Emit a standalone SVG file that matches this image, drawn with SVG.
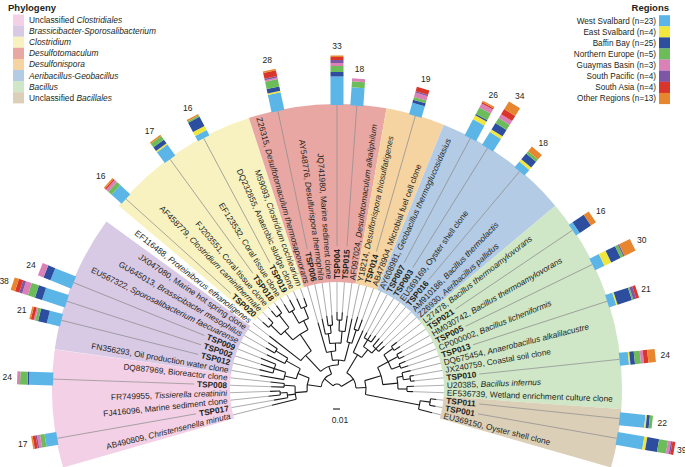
<svg xmlns="http://www.w3.org/2000/svg" width="685" height="467" viewBox="0 0 685 467">
<style>
text{font-family:"Liberation Sans",Arial,Helvetica,sans-serif;fill:#231f20}
.lf{font-size:8.3px}
.b{font-weight:bold}
.i{font-style:italic}
.n{font-size:8.5px;text-anchor:middle}
.lg{font-size:8.4px}
.rg{font-size:8.2px;text-anchor:end}
.ttl{font-size:9.5px;font-weight:bold}
.gl{stroke:#8e8e8e;stroke-width:.7;fill:none}
.br{stroke:#1a1a1a;stroke-width:1.1;fill:none}
.arc{fill:none;stroke:#1a1a1a;stroke-width:1.1}
.wd{fill:none;stroke-width:178}
.c1{fill:#5bb5e6}.c2{fill:#f0e63c}.c3{fill:#2d4d9e}.c4{fill:#6cbd5a}
.c5{fill:#dc80b8}.c6{fill:#7d56a6}.c7{fill:#d9352b}.c8{fill:#e8862f}
.w1{fill:#f3d0e5}.w2{fill:#d8c9e5}.w3{fill:#f8f2c0}.w4{fill:#e8a7a3}
.w5{fill:#f6d4a2}.w6{fill:#b3cbe4}.w7{fill:#cfe6c7}.w8{fill:#dccfb8}
</style>

<g id="legend-phylogeny">
<text class="ttl" x="8" y="11">Phylogeny</text>
<rect class="w1" x="13" y="14.5" width="11" height="11.2"/>
<rect class="w2" x="13" y="25.6" width="11" height="11.2"/>
<rect class="w3" x="13" y="36.7" width="11" height="11.2"/>
<rect class="w4" x="13" y="47.8" width="11" height="11.2"/>
<rect class="w5" x="13" y="58.9" width="11" height="11.2"/>
<rect class="w6" x="13" y="70" width="11" height="11.2"/>
<rect class="w7" x="13" y="81.1" width="11" height="11.2"/>
<rect class="w8" x="13" y="92.2" width="11" height="11.2"/>
<text class="lg" x="29" y="23">Unclassified <tspan class="i">Clostridiales</tspan></text>
<text class="lg i" x="29" y="34.1">Brassicibacter-Sporosalibacterium</text>
<text class="lg i" x="29" y="45.2">Clostridium</text>
<text class="lg i" x="29" y="56.3">Desulfotomaculum</text>
<text class="lg i" x="29" y="67.4">Desulfonispora</text>
<text class="lg i" x="29" y="78.5">Aeribacillus-Geobacillus</text>
<text class="lg i" x="29" y="89.6">Bacillus</text>
<text class="lg" x="29" y="100.7">Unclassified <tspan class="i">Bacillales</tspan></text>
</g>

<g id="legend-regions">
<text class="ttl" x="669" y="11" text-anchor="end">Regions</text>
<rect class="c1" x="659" y="15.2" width="11" height="11.2"/>
<rect class="c2" x="659" y="26.3" width="11" height="11.2"/>
<rect class="c3" x="659" y="37.4" width="11" height="11.2"/>
<rect class="c4" x="659" y="48.5" width="11" height="11.2"/>
<rect class="c5" x="659" y="59.6" width="11" height="11.2"/>
<rect class="c6" x="659" y="70.7" width="11" height="11.2"/>
<rect class="c7" x="659" y="81.8" width="11" height="11.2"/>
<rect class="c8" x="659" y="92.9" width="11" height="11.2"/>
<text class="rg" x="656" y="23.7">West Svalbard (n=23)</text>
<text class="rg" x="656" y="34.8">East Svalbard (n=4)</text>
<text class="rg" x="656" y="45.9">Baffin Bay (n=25)</text>
<text class="rg" x="656" y="57">Northern Europe (n=5)</text>
<text class="rg" x="656" y="68.1">Guaymas Basin (n=3)</text>
<text class="rg" x="656" y="79.2">South Pacific (n=4)</text>
<text class="rg" x="656" y="90.3">South Asia (n=4)</text>
<text class="rg" x="656" y="101.4">Other Regions (n=13)</text>
</g>

<g id="scale-bar">
<path d="M333 409H340" stroke="#1a1a1a" stroke-width="1.1"/>
<text x="340" y="423" font-size="8.5" text-anchor="middle">0.01</text>
</g>

<g transform="translate(337 389)">
<g id="clade-wedges">
<circle class="wd" r="196" pathLength="360" stroke="#f3d0e5" stroke-dasharray="24 336" transform="rotate(164)"/>
<circle class="wd" r="196" pathLength="360" stroke="#d8c9e5" stroke-dasharray="28 332" transform="rotate(188)"/>
<circle class="wd" r="196" pathLength="360" stroke="#f8f2c0" stroke-dasharray="32 328" transform="rotate(220)"/>
<circle class="wd" r="196" pathLength="360" stroke="#e8a7a3" stroke-dasharray="28 332" transform="rotate(252)"/>
<circle class="wd" r="196" pathLength="360" stroke="#f6d4a2" stroke-dasharray="12 348" transform="rotate(280)"/>
<circle class="wd" r="196" pathLength="360" stroke="#b3cbe4" stroke-dasharray="28 332" transform="rotate(292)"/>
<circle class="wd" r="196" pathLength="360" stroke="#cfe6c7" stroke-dasharray="44 316" transform="rotate(320)"/>
<circle class="wd" r="196" pathLength="360" stroke="#dccfb8" stroke-dasharray="12 348" transform="rotate(364)"/>
</g>

<g id="connectors">
<circle class="arc" r="5" pathLength="360" stroke-dasharray="109.94 360" transform="rotate(219.125)"/>
<circle class="arc" r="16" pathLength="360" stroke-dasharray="61.75 360" transform="rotate(188.25)"/>
<circle class="arc" r="30" pathLength="360" stroke-dasharray="26.5 360" transform="rotate(175)"/>
<circle class="arc" r="42" pathLength="360" stroke-dasharray="18 360" transform="rotate(166)"/>
<circle class="arc" r="50" pathLength="360" stroke-dasharray="6 360" transform="rotate(170)"/>
<circle class="arc" r="57" pathLength="360" stroke-dasharray="4 360" transform="rotate(174)"/>
<circle class="arc" r="53" pathLength="360" stroke-dasharray="4 360" transform="rotate(182)"/>
<circle class="arc" r="42" pathLength="360" stroke-dasharray="15 360" transform="rotate(194)"/>
<circle class="arc" r="54" pathLength="360" stroke-dasharray="8 360" transform="rotate(190)"/>
<circle class="arc" r="66" pathLength="360" stroke-dasharray="8 360" transform="rotate(194)"/>
<circle class="arc" r="58" pathLength="360" stroke-dasharray="6 360" transform="rotate(206)"/>
<circle class="arc" r="72" pathLength="360" stroke-dasharray="4 360" transform="rotate(210)"/>
<circle class="arc" r="24" pathLength="360" stroke-dasharray="46 360" transform="rotate(227)"/>
<circle class="arc" r="46" pathLength="360" stroke-dasharray="18 360" transform="rotate(218)"/>
<circle class="arc" r="66" pathLength="360" stroke-dasharray="16 360" transform="rotate(228)"/>
<circle class="arc" r="78" pathLength="360" stroke-dasharray="8 360" transform="rotate(224)"/>
<circle class="arc" r="92" pathLength="360" stroke-dasharray="4 360" transform="rotate(222)"/>
<circle class="arc" r="94" pathLength="360" stroke-dasharray="4 360" transform="rotate(230)"/>
<circle class="arc" r="76" pathLength="360" stroke-dasharray="8 360" transform="rotate(240)"/>
<circle class="arc" r="90" pathLength="360" stroke-dasharray="4 360" transform="rotate(238)"/>
<circle class="arc" r="88" pathLength="360" stroke-dasharray="4 360" transform="rotate(246)"/>
<circle class="arc" r="29" pathLength="360" stroke-dasharray="24 360" transform="rotate(261)"/>
<circle class="arc" r="38" pathLength="360" stroke-dasharray="14 360" transform="rotate(254)"/>
<circle class="arc" r="46" pathLength="360" stroke-dasharray="14 360" transform="rotate(261)"/>
<circle class="arc" r="56" pathLength="360" stroke-dasharray="6 360" transform="rotate(258)"/>
<circle class="arc" r="64" pathLength="360" stroke-dasharray="4 360" transform="rotate(262)"/>
<circle class="arc" r="58" pathLength="360" stroke-dasharray="6 360" transform="rotate(272)"/>
<circle class="arc" r="69" pathLength="360" stroke-dasharray="4 360" transform="rotate(270)"/>
<circle class="arc" r="48" pathLength="360" stroke-dasharray="6 360" transform="rotate(282)"/>
<circle class="arc" r="62" pathLength="360" stroke-dasharray="4 360" transform="rotate(286)"/>
<circle class="arc" r="19" pathLength="360" stroke-dasharray="56.125 360" transform="rotate(301)"/>
<circle class="arc" r="40" pathLength="360" stroke-dasharray="14 360" transform="rotate(294)"/>
<circle class="arc" r="50" pathLength="360" stroke-dasharray="12 360" transform="rotate(302)"/>
<circle class="arc" r="58" pathLength="360" stroke-dasharray="8 360" transform="rotate(298)"/>
<circle class="arc" r="56" pathLength="360" stroke-dasharray="8 360" transform="rotate(310)"/>
<circle class="arc" r="29" pathLength="360" stroke-dasharray="27.75 360" transform="rotate(343.25)"/>
<circle class="arc" r="46" pathLength="360" stroke-dasharray="22.5 360" transform="rotate(332)"/>
<circle class="arc" r="58" pathLength="360" stroke-dasharray="16 360" transform="rotate(324)"/>
<circle class="arc" r="69" pathLength="360" stroke-dasharray="4 360" transform="rotate(322)"/>
<circle class="arc" r="69" pathLength="360" stroke-dasharray="4 360" transform="rotate(330)"/>
<circle class="arc" r="67" pathLength="360" stroke-dasharray="4 360" transform="rotate(338)"/>
<circle class="arc" r="61" pathLength="360" stroke-dasharray="11 360" transform="rotate(349)"/>
<circle class="arc" r="67" pathLength="360" stroke-dasharray="6 360" transform="rotate(346)"/>
<circle class="arc" r="74" pathLength="360" stroke-dasharray="4 360" transform="rotate(350)"/>
<circle class="arc" r="70" pathLength="360" stroke-dasharray="4 360" transform="rotate(358)"/>
<circle class="arc" r="84" pathLength="360" stroke-dasharray="6 360" transform="rotate(368)"/>
<circle class="arc" r="94" pathLength="360" stroke-dasharray="4 360" transform="rotate(366)"/>
<path class="br" d="M5 0H16" transform="rotate(219.125)"/>
<path class="br" d="M5 0H19" transform="rotate(329.06)"/>
<path class="br" d="M16 0H30" transform="rotate(188.25)"/>
<path class="br" d="M16 0H24" transform="rotate(250)"/>
<path class="br" d="M30 0H42" transform="rotate(175)"/>
<path class="br" d="M30 0H42" transform="rotate(201.5)"/>
<path class="br" d="M42 0H50" transform="rotate(173)"/>
<path class="br" d="M42 0H53" transform="rotate(184)"/>
<path class="br" d="M50 0H57" transform="rotate(176)"/>
<path class="br" d="M42 0H54" transform="rotate(194)"/>
<path class="br" d="M42 0H58" transform="rotate(209)"/>
<path class="br" d="M54 0H66" transform="rotate(198)"/>
<path class="br" d="M58 0H72" transform="rotate(212)"/>
<path class="br" d="M24 0H46" transform="rotate(227)"/>
<path class="br" d="M24 0H29" transform="rotate(273)"/>
<path class="br" d="M46 0H66" transform="rotate(236)"/>
<path class="br" d="M66 0H78" transform="rotate(228)"/>
<path class="br" d="M66 0H76" transform="rotate(244)"/>
<path class="br" d="M78 0H92" transform="rotate(224)"/>
<path class="br" d="M78 0H94" transform="rotate(232)"/>
<path class="br" d="M76 0H90" transform="rotate(240)"/>
<path class="br" d="M76 0H88" transform="rotate(248)"/>
<path class="br" d="M29 0H38" transform="rotate(261)"/>
<path class="br" d="M29 0H48" transform="rotate(285)"/>
<path class="br" d="M38 0H46" transform="rotate(268)"/>
<path class="br" d="M46 0H56" transform="rotate(261)"/>
<path class="br" d="M46 0H58" transform="rotate(275)"/>
<path class="br" d="M56 0H64" transform="rotate(264)"/>
<path class="br" d="M58 0H69" transform="rotate(272)"/>
<path class="br" d="M48 0H62" transform="rotate(288)"/>
<path class="br" d="M19 0H40" transform="rotate(301)"/>
<path class="br" d="M19 0H29" transform="rotate(357.125)"/>
<path class="br" d="M40 0H50" transform="rotate(308)"/>
<path class="br" d="M50 0H58" transform="rotate(302)"/>
<path class="br" d="M50 0H56" transform="rotate(314)"/>
<path class="br" d="M29 0H46" transform="rotate(343.25)"/>
<path class="br" d="M29 0H84" transform="rotate(371)"/>
<path class="br" d="M46 0H58" transform="rotate(332)"/>
<path class="br" d="M46 0H61" transform="rotate(354.5)"/>
<path class="br" d="M58 0H69" transform="rotate(324)"/>
<path class="br" d="M58 0H69" transform="rotate(332)"/>
<path class="br" d="M58 0H67" transform="rotate(340)"/>
<path class="br" d="M61 0H67" transform="rotate(349)"/>
<path class="br" d="M61 0H70" transform="rotate(360)"/>
<path class="br" d="M67 0H74" transform="rotate(352)"/>
<path class="br" d="M84 0H94" transform="rotate(368)"/>
</g>

<g id="leaf01" transform="rotate(166)"><path class="br" d="M42 0H67"/><path class="gl" d="M67 0H107"/><text class="lf" transform="rotate(180)" x="-110" y="3" text-anchor="end">AB490809, <tspan class="i">Christensenella minuta</tspan></text></g>
<g id="leaf02" transform="rotate(170)"><path class="br" d="M50 0H64"/><path class="gl" d="M64 0H107M143 0H284"/><text class="lf b" transform="rotate(180)" x="-110" y="3" text-anchor="end">TSP017</text>
<rect class="c1" x="284" y="-6.5" width="12" height="13"/><rect class="c4" x="296" y="-6.5" width="4.5" height="13"/><rect class="c5" x="300.5" y="-6.5" width="3" height="13"/><rect class="c6" x="303.5" y="-6.5" width="1.5" height="13"/><rect class="c7" x="305" y="-6.5" width="3" height="13"/><rect class="c8" x="308" y="-6.5" width="1.5" height="13"/>
<text class="n" transform="translate(319 0) rotate(-170)" y="3">17</text></g>
<g id="leaf03" transform="rotate(174)"><path class="br" d="M57 0H69"/><path class="gl" d="M69 0H107"/><text class="lf" transform="rotate(180)" x="-110" y="3" text-anchor="end">FJ416096, Marine sediment clone</text></g>
<g id="leaf04" transform="rotate(178)"><path class="br" d="M57 0H67"/><path class="gl" d="M67 0H107"/><text class="lf" transform="rotate(180)" x="-110" y="3" text-anchor="end">FR749955, <tspan class="i">Tissierella creatinini</tspan></text></g>
<g id="leaf05" transform="rotate(182)"><path class="br" d="M53 0H66"/><path class="gl" d="M66 0H107M143 0H284"/><text class="lf b" transform="rotate(180)" x="-110" y="3" text-anchor="end">TSP008</text>
<rect class="c1" x="284" y="-6.5" width="24" height="13"/><rect class="c3" x="308" y="-6.5" width="1.5" height="13"/><rect class="c4" x="309.5" y="-6.5" width="7.5" height="13"/><rect class="c5" x="317" y="-6.5" width="3" height="13"/>
<text class="n" transform="translate(330 0) rotate(-182)" y="3">24</text></g>
<g id="leaf06" transform="rotate(186)"><path class="br" d="M53 0H67"/><path class="gl" d="M67 0H107"/><text class="lf" transform="rotate(180)" x="-110" y="3" text-anchor="end">DQ887969, Bioreactor clone</text></g>
<g id="leaf07" transform="rotate(190)"><path class="br" d="M54 0H78"/><path class="gl" d="M78 0H107"/><text class="lf" transform="rotate(180)" x="-110" y="3" text-anchor="end">FN356293, Oil production water clone</text></g>
<g id="leaf08" transform="rotate(194)"><path class="br" d="M66 0H80"/><path class="gl" d="M80 0H107M143 0H284"/><text class="lf b" transform="rotate(180)" x="-110" y="3" text-anchor="end">TSP012</text>
<rect class="c1" x="284" y="-6.5" width="13.5" height="13"/><rect class="c3" x="297.5" y="-6.5" width="9" height="13"/><rect class="c4" x="306.5" y="-6.5" width="3" height="13"/><rect class="c5" x="309.5" y="-6.5" width="1.5" height="13"/><rect class="c7" x="311" y="-6.5" width="3" height="13"/><rect class="c8" x="314" y="-6.5" width="1.5" height="13"/>
<text class="n" transform="translate(325 0) rotate(-194)" y="3">21</text></g>
<g id="leaf09" transform="rotate(198)"><path class="br" d="M66 0H80"/><path class="gl" d="M80 0H107M143 0H284"/><text class="lf b" transform="rotate(180)" x="-110" y="3" text-anchor="end">TSP002</text>
<rect class="c1" x="284" y="-6.5" width="24" height="13"/><rect class="c3" x="308" y="-6.5" width="7.5" height="13"/><rect class="c4" x="315.5" y="-6.5" width="7.5" height="13"/><rect class="c5" x="323" y="-6.5" width="6" height="13"/><rect class="c6" x="329" y="-6.5" width="3" height="13"/><rect class="c7" x="332" y="-6.5" width="4.5" height="13"/><rect class="c8" x="336.5" y="-6.5" width="4.5" height="13"/>
<text class="n" transform="translate(350 0) rotate(-198)" y="3">38</text></g>
<g id="leaf10" transform="rotate(202)"><path class="br" d="M66 0H82"/><path class="gl" d="M82 0H107M143 0H284"/><text class="lf b" transform="rotate(180)" x="-110" y="3" text-anchor="end">TSP009</text>
<rect class="c1" x="284" y="-6.5" width="22.5" height="13"/><rect class="c3" x="306.5" y="-6.5" width="7.5" height="13"/><rect class="c5" x="314" y="-6.5" width="6" height="13"/>
<text class="n" transform="translate(330 0) rotate(-202)" y="3">24</text></g>
<g id="leaf11" transform="rotate(206)"><path class="br" d="M58 0H78"/><path class="gl" d="M78 0H107"/><text class="lf" transform="rotate(180)" x="-110" y="3" text-anchor="end">EU567322, <tspan class="i">Sporosalibacterium faecuarense</tspan></text></g>
<g id="leaf12" transform="rotate(210)"><path class="br" d="M72 0H82"/><path class="gl" d="M82 0H107"/><text class="lf" transform="rotate(180)" x="-110" y="3" text-anchor="end">GU645013, <tspan class="i">Brassicibacter mesophilus</tspan></text></g>
<g id="leaf13" transform="rotate(214)"><path class="br" d="M72 0H83"/><path class="gl" d="M83 0H107"/><text class="lf" transform="rotate(180)" x="-110" y="3" text-anchor="end">JX047080, Marine hot spring clone</text></g>
<g id="leaf14" transform="rotate(218)"><path class="br" d="M46 0H86"/><path class="gl" d="M86 0H107"/><text class="lf" transform="rotate(180)" x="-110" y="3" text-anchor="end">EF116488, <tspan class="i">Proteiniborus ethanoligenes</tspan></text></g>
<g id="leaf15" transform="rotate(222)"><path class="br" d="M92 0H100"/><path class="gl" d="M100 0H107M143 0H284"/><text class="lf b" transform="rotate(180)" x="-110" y="3" text-anchor="end">TSP020</text>
<rect class="c1" x="284" y="-6.5" width="13.5" height="13"/><rect class="c4" x="297.5" y="-6.5" width="4.5" height="13"/><rect class="c5" x="302" y="-6.5" width="3" height="13"/><rect class="c7" x="305" y="-6.5" width="1.5" height="13"/><rect class="c8" x="306.5" y="-6.5" width="1.5" height="13"/>
<text class="n" transform="translate(318 0) rotate(-222)" y="3">16</text></g>
<g id="leaf16" transform="rotate(226)"><path class="br" d="M92 0H99"/><path class="gl" d="M99 0H107"/><text class="lf" transform="rotate(180)" x="-110" y="3" text-anchor="end">AF458779, <tspan class="i">Clostridium caminithermale</tspan></text></g>
<g id="leaf17" transform="rotate(230)"><path class="br" d="M94 0H102"/><path class="gl" d="M102 0H107"/><text class="lf" transform="rotate(180)" x="-110" y="3" text-anchor="end">FJ203551, Coral tissue clone</text></g>
<g id="leaf18" transform="rotate(234)"><path class="br" d="M94 0H103"/><path class="gl" d="M103 0H107M143 0H284"/><text class="lf b" transform="rotate(180)" x="-110" y="3" text-anchor="end">TSP018</text>
<rect class="c1" x="284" y="-6.5" width="13.5" height="13"/><rect class="c2" x="297.5" y="-6.5" width="1.5" height="13"/><rect class="c3" x="299" y="-6.5" width="4.5" height="13"/><rect class="c4" x="303.5" y="-6.5" width="4.5" height="13"/><rect class="c8" x="308" y="-6.5" width="1.5" height="13"/>
<text class="n" transform="translate(319 0) rotate(-234)" y="3">17</text></g>
<g id="leaf19" transform="rotate(238)"><path class="br" d="M90 0H100"/><path class="gl" d="M100 0H107"/><text class="lf" transform="rotate(180)" x="-110" y="3" text-anchor="end">EF123532, Coral tissue clone</text></g>
<g id="leaf20" transform="rotate(242)"><path class="br" d="M90 0H101"/><path class="gl" d="M101 0H107M143 0H284"/><text class="lf b" transform="rotate(180)" x="-110" y="3" text-anchor="end">TSP019</text>
<rect class="c1" x="284" y="-6.5" width="6" height="13"/><rect class="c2" x="290" y="-6.5" width="4.5" height="13"/><rect class="c3" x="294.5" y="-6.5" width="10.5" height="13"/><rect class="c4" x="305" y="-6.5" width="1.5" height="13"/><rect class="c8" x="306.5" y="-6.5" width="1.5" height="13"/>
<text class="n" transform="translate(318 0) rotate(-242)" y="3">16</text></g>
<g id="leaf21" transform="rotate(246)"><path class="br" d="M88 0H99"/><path class="gl" d="M99 0H107"/><text class="lf" transform="rotate(180)" x="-110" y="3" text-anchor="end">DQ232855, Anaerobic sludge clone</text></g>
<g id="leaf22" transform="rotate(250)"><path class="br" d="M88 0H97"/><path class="gl" d="M97 0H107"/><text class="lf" transform="rotate(180)" x="-110" y="3" text-anchor="end">M59093, <tspan class="i">Clostridium cochlearium</tspan></text></g>
<g id="leaf23" transform="rotate(254)"><path class="br" d="M38 0H69"/><path class="gl" d="M69 0H107"/><text class="lf" transform="rotate(180)" x="-110" y="3" text-anchor="end">Z26315, <tspan class="i">Desulfotomaculum thermosapovorans</tspan></text></g>
<g id="leaf24" transform="rotate(258)"><path class="br" d="M56 0H72"/><path class="gl" d="M72 0H107M143 0H284"/><text class="lf b" transform="rotate(180)" x="-110" y="3" text-anchor="end">TSP006</text>
<rect class="c1" x="284" y="-6.5" width="18" height="13"/><rect class="c2" x="302" y="-6.5" width="1.5" height="13"/><rect class="c3" x="303.5" y="-6.5" width="4.5" height="13"/><rect class="c4" x="308" y="-6.5" width="7.5" height="13"/><rect class="c5" x="315.5" y="-6.5" width="1.5" height="13"/><rect class="c6" x="317" y="-6.5" width="1.5" height="13"/><rect class="c7" x="318.5" y="-6.5" width="6" height="13"/><rect class="c8" x="324.5" y="-6.5" width="1.5" height="13"/>
<text class="n" transform="translate(336 0) rotate(-258)" y="3">28</text></g>
<g id="leaf25" transform="rotate(262)"><path class="br" d="M64 0H74"/><path class="gl" d="M74 0H107"/><text class="lf" transform="rotate(180)" x="-110" y="3" text-anchor="end">AY548776, <tspan class="i">Desulfurispora thermophila</tspan></text></g>
<g id="leaf26" transform="rotate(266)"><path class="br" d="M64 0H74"/><path class="gl" d="M74 0H107"/><text class="lf" transform="rotate(180)" x="-110" y="3" text-anchor="end">JQ741980, Marine sediment clone</text></g>
<g id="leaf27" transform="rotate(270)"><path class="br" d="M69 0H77"/><path class="gl" d="M77 0H107M143 0H284"/><text class="lf b" x="110" y="3">TSP004</text>
<rect class="c1" x="284" y="-6.5" width="28.5" height="13"/><rect class="c3" x="312.5" y="-6.5" width="4.5" height="13"/><rect class="c4" x="317" y="-6.5" width="6" height="13"/><rect class="c5" x="323" y="-6.5" width="3" height="13"/><rect class="c6" x="326" y="-6.5" width="3" height="13"/><rect class="c7" x="329" y="-6.5" width="3" height="13"/><rect class="c8" x="332" y="-6.5" width="1.5" height="13"/>
<text class="n" transform="translate(343 0) rotate(-270)" y="3">33</text></g>
<g id="leaf28" transform="rotate(274)"><path class="br" d="M69 0H77"/><path class="gl" d="M77 0H107M143 0H284"/><text class="lf b" x="110" y="3">TSP015</text>
<rect class="c1" x="284" y="-6.5" width="18" height="13"/><rect class="c4" x="302" y="-6.5" width="6" height="13"/><rect class="c5" x="308" y="-6.5" width="3" height="13"/>
<text class="n" transform="translate(321 0) rotate(-274)" y="3">18</text></g>
<g id="leaf29" transform="rotate(278)"><path class="br" d="M58 0H74"/><path class="gl" d="M74 0H107"/><text class="lf" x="110" y="3">AF097024, <tspan class="i">Desulfotomaculum alkaliphilum</tspan></text></g>
<g id="leaf30" transform="rotate(282)"><path class="br" d="M48 0H72"/><path class="gl" d="M72 0H107"/><text class="lf" x="110" y="3">Y18214, <tspan class="i">Desulfonispora thiosulfatigenes</tspan></text></g>
<g id="leaf31" transform="rotate(286)"><path class="br" d="M62 0H75"/><path class="gl" d="M75 0H107M143 0H284"/><text class="lf b" x="110" y="3">TSP014</text>
<rect class="c1" x="284" y="-6.5" width="12" height="13"/><rect class="c3" x="296" y="-6.5" width="3" height="13"/><rect class="c4" x="299" y="-6.5" width="3" height="13"/><rect class="c5" x="302" y="-6.5" width="4.5" height="13"/><rect class="c6" x="306.5" y="-6.5" width="1.5" height="13"/><rect class="c7" x="308" y="-6.5" width="4.5" height="13"/>
<text class="n" transform="translate(322 0) rotate(-286)" y="3">19</text></g>
<g id="leaf32" transform="rotate(290)"><path class="br" d="M62 0H74"/><path class="gl" d="M74 0H107"/><text class="lf" x="110" y="3">AB478904, Microbial fuel cell clone</text></g>
<g id="leaf33" transform="rotate(294)"><path class="br" d="M40 0H64"/><path class="gl" d="M64 0H107"/><text class="lf" x="110" y="3">AY608981, <tspan class="i">Geobacillus thermoglucosidasius</tspan></text></g>
<g id="leaf34" transform="rotate(298)"><path class="br" d="M58 0H64"/><path class="gl" d="M64 0H107M143 0H284"/><text class="lf b" x="110" y="3">TSP007</text>
<rect class="c1" x="284" y="-6.5" width="18" height="13"/><rect class="c2" x="302" y="-6.5" width="4.5" height="13"/><rect class="c3" x="306.5" y="-6.5" width="1.5" height="13"/><rect class="c4" x="308" y="-6.5" width="7.5" height="13"/><rect class="c5" x="315.5" y="-6.5" width="4.5" height="13"/><rect class="c7" x="320" y="-6.5" width="1.5" height="13"/><rect class="c8" x="321.5" y="-6.5" width="1.5" height="13"/>
<text class="n" transform="translate(333 0) rotate(-298)" y="3">26</text></g>
<g id="leaf35" transform="rotate(302)"><path class="br" d="M58 0H64"/><path class="gl" d="M64 0H107M143 0H284"/><text class="lf b" x="110" y="3">TSP003</text>
<rect class="c1" x="284" y="-6.5" width="15" height="13"/><rect class="c2" x="299" y="-6.5" width="3" height="13"/><rect class="c3" x="302" y="-6.5" width="7.5" height="13"/><rect class="c4" x="309.5" y="-6.5" width="6" height="13"/><rect class="c5" x="315.5" y="-6.5" width="4.5" height="13"/><rect class="c7" x="320" y="-6.5" width="6" height="13"/><rect class="c8" x="326" y="-6.5" width="9" height="13"/>
<text class="n" transform="translate(345 0) rotate(-302)" y="3">34</text></g>
<g id="leaf36" transform="rotate(306)"><path class="br" d="M58 0H66"/><path class="gl" d="M66 0H107"/><text class="lf" x="110" y="3">EU369169, Oyster shell clone</text></g>
<g id="leaf37" transform="rotate(310)"><path class="br" d="M56 0H66"/><path class="gl" d="M66 0H107M143 0H284"/><text class="lf b" x="110" y="3">TSP016</text>
<rect class="c1" x="284" y="-6.5" width="7.5" height="13"/><rect class="c2" x="291.5" y="-6.5" width="3" height="13"/><rect class="c3" x="294.5" y="-6.5" width="7.5" height="13"/><rect class="c4" x="302" y="-6.5" width="3" height="13"/><rect class="c8" x="305" y="-6.5" width="6" height="13"/>
<text class="n" transform="translate(321 0) rotate(-310)" y="3">18</text></g>
<g id="leaf38" transform="rotate(314)"><path class="br" d="M56 0H66"/><path class="gl" d="M66 0H107"/><text class="lf" x="110" y="3">AM910186, <tspan class="i">Bacillus thermolactis</tspan></text></g>
<g id="leaf39" transform="rotate(318)"><path class="br" d="M56 0H64"/><path class="gl" d="M64 0H107"/><text class="lf" x="110" y="3">Z26930, <tspan class="i">Aeribacillus pallidus</tspan></text></g>
<g id="leaf40" transform="rotate(322)"><path class="br" d="M69 0H76"/><path class="gl" d="M76 0H107"/><text class="lf" x="110" y="3">L27478, <tspan class="i">Bacillus thermoamylovorans</tspan></text></g>
<g id="leaf41" transform="rotate(326)"><path class="br" d="M69 0H76"/><path class="gl" d="M76 0H107M143 0H284"/><text class="lf b" x="110" y="3">TSP021</text>
<rect class="c1" x="284" y="-6.5" width="4.5" height="13"/><rect class="c3" x="288.5" y="-6.5" width="13.5" height="13"/><rect class="c8" x="302" y="-6.5" width="6" height="13"/>
<text class="n" transform="translate(318 0) rotate(-326)" y="3">16</text></g>
<g id="leaf42" transform="rotate(330)"><path class="br" d="M69 0H75"/><path class="gl" d="M75 0H107"/><text class="lf" x="110" y="3">HM030742, <tspan class="i">Bacillus thermoamylovorans</tspan></text></g>
<g id="leaf43" transform="rotate(334)"><path class="br" d="M69 0H75"/><path class="gl" d="M75 0H107M143 0H284"/><text class="lf b" x="110" y="3">TSP005</text>
<rect class="c1" x="284" y="-6.5" width="10.5" height="13"/><rect class="c2" x="294.5" y="-6.5" width="7.5" height="13"/><rect class="c3" x="302" y="-6.5" width="10.5" height="13"/><rect class="c4" x="312.5" y="-6.5" width="3" height="13"/><rect class="c6" x="315.5" y="-6.5" width="1.5" height="13"/><rect class="c8" x="317" y="-6.5" width="12" height="13"/>
<text class="n" transform="translate(339 0) rotate(-334)" y="3">30</text></g>
<g id="leaf44" transform="rotate(338)"><path class="br" d="M67 0H74"/><path class="gl" d="M74 0H107"/><text class="lf" x="110" y="3">CP000002, <tspan class="i">Bacillus licheniformis</tspan></text></g>
<g id="leaf45" transform="rotate(342)"><path class="br" d="M67 0H75"/><path class="gl" d="M75 0H107M143 0H284"/><text class="lf b" x="110" y="3">TSP013</text>
<rect class="c1" x="284" y="-6.5" width="7.5" height="13"/><rect class="c2" x="291.5" y="-6.5" width="1.5" height="13"/><rect class="c3" x="293" y="-6.5" width="15" height="13"/><rect class="c4" x="308" y="-6.5" width="1.5" height="13"/><rect class="c6" x="309.5" y="-6.5" width="3" height="13"/><rect class="c7" x="312.5" y="-6.5" width="3" height="13"/>
<text class="n" transform="translate(325 0) rotate(-342)" y="3">21</text></g>
<g id="leaf46" transform="rotate(346)"><path class="br" d="M67 0H76"/><path class="gl" d="M76 0H107"/><text class="lf" x="110" y="3">DQ675454, <tspan class="i">Anaerobacillus alkalilacustre</tspan></text></g>
<g id="leaf47" transform="rotate(350)"><path class="br" d="M74 0H78"/><path class="gl" d="M78 0H107"/><text class="lf" x="110" y="3">JX240759, Coastal soil clone</text></g>
<g id="leaf48" transform="rotate(354)"><path class="br" d="M74 0H78"/><path class="gl" d="M78 0H107M143 0H284"/><text class="lf b" x="110" y="3">TSP010</text>
<rect class="c1" x="284" y="-6.5" width="9" height="13"/><rect class="c2" x="293" y="-6.5" width="1.5" height="13"/><rect class="c3" x="294.5" y="-6.5" width="4.5" height="13"/><rect class="c4" x="299" y="-6.5" width="6" height="13"/><rect class="c5" x="305" y="-6.5" width="3" height="13"/><rect class="c7" x="308" y="-6.5" width="4.5" height="13"/><rect class="c8" x="312.5" y="-6.5" width="7.5" height="13"/>
<text class="n" transform="translate(330 0) rotate(-354)" y="3">24</text></g>
<g id="leaf49" transform="rotate(358)"><path class="br" d="M70 0H77"/><path class="gl" d="M77 0H107"/><text class="lf" x="110" y="3">U20385, <tspan class="i">Bacillus infernus</tspan></text></g>
<g id="leaf50" transform="rotate(362)"><path class="br" d="M70 0H76"/><path class="gl" d="M76 0H107"/><text class="lf" x="110" y="3">EF536739, Wetland enrichment culture clone</text></g>
<g id="leaf51" transform="rotate(366)"><path class="br" d="M94 0H100"/><path class="gl" d="M100 0H107M143 0H284"/><text class="lf b" x="110" y="3">TSP011</text>
<rect class="c1" x="284" y="-6.5" width="25.5" height="13"/><rect class="c2" x="309.5" y="-6.5" width="1.5" height="13"/><rect class="c3" x="311" y="-6.5" width="3" height="13"/><rect class="c4" x="314" y="-6.5" width="3" height="13"/>
<text class="n" transform="translate(327 0) rotate(-366)" y="3">22</text></g>
<g id="leaf52" transform="rotate(370)"><path class="br" d="M94 0H100"/><path class="gl" d="M100 0H107M143 0H284"/><text class="lf b" x="110" y="3">TSP001</text>
<rect class="c1" x="284" y="-6.5" width="27" height="13"/><rect class="c2" x="311" y="-6.5" width="3" height="13"/><rect class="c3" x="314" y="-6.5" width="12" height="13"/><rect class="c4" x="326" y="-6.5" width="9" height="13"/><rect class="c5" x="335" y="-6.5" width="3" height="13"/><rect class="c6" x="338" y="-6.5" width="1.5" height="13"/><rect class="c7" x="339.5" y="-6.5" width="3" height="13"/>
<text class="n" transform="translate(350 0) rotate(-370)" y="3">39</text></g>
<g id="leaf53" transform="rotate(374)"><path class="br" d="M84 0H98"/><path class="gl" d="M98 0H107"/><text class="lf" x="110" y="3">EU369150, Oyster shell clone</text></g>
</g>
</svg>
